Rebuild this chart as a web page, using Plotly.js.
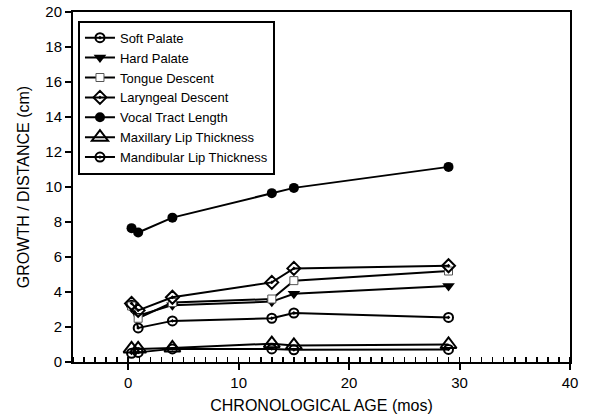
<!DOCTYPE html>
<html>
<head>
<meta charset="utf-8">
<script src="https://cdn.plot.ly/plotly-3.0.1.min.js"></script>
<style>html,body{margin:0;padding:0;background:#fff;}#chart{width:591px;height:417px;}</style>
</head>
<body>
<div id="chart"></div>
<script>
var seriesNames = ["Soft Palate","Hard Palate","Tongue Descent","Laryngeal Descent","Vocal Tract Length","Maxillary Lip Thickness","Mandibular Lip Thickness"];
var ageSoftPalate = [0.3, 0.9, 4, 13, 15, 29];
var softPalate = [3.25, 1.95, 2.35, 2.5, 2.8, 2.55];
var ageHardPalate = [0.3, 0.9, 4, 13, 15, 29];
var hardPalate = [3.1, 2.65, 3.25, 3.45, 3.9, 4.35];
var ageTongue = [0.3, 0.9, 4, 13, 15, 29];
var tongueDescent = [3.2, 2.5, 3.4, 3.6, 4.65, 5.2];
var ageLarynx = [0.3, 0.9, 4, 13, 15, 29];
var laryngealDescent = [3.35, 2.95, 3.7, 4.55, 5.35, 5.5];
var ageVocal = [0.3, 0.9, 4, 13, 15, 29];
var vocalTract = [7.65, 7.4, 8.25, 9.65, 9.95, 11.15];
var ageMaxLip = [0.3, 0.9, 4, 13, 15, 29];
var maxLip = [0.75, 0.75, 0.8, 1.05, 0.95, 1.0];
var ageMandLip = [0.3, 0.9, 4, 13, 15, 29];
var mandLip = [0.5, 0.55, 0.75, 0.75, 0.7, 0.72];
var xTickVals = [0, 10, 20, 30, 40];
var yTickVals = [0, 2, 4, 6, 8, 10, 12, 14, 16, 18, 20];

var lineStyle = {color: '#000', width: 2};
var traces = [
  {x: ageSoftPalate, y: softPalate, name: seriesNames[0], mode: 'lines+markers', line: lineStyle,
   marker: {symbol: 'circle-open-dot', size: 9, color: '#000', line: {width: 2, color: '#000'}}},
  {x: ageHardPalate, y: hardPalate, name: seriesNames[1], mode: 'lines+markers', line: lineStyle,
   marker: {symbol: 'triangle-down', size: 11, color: '#000'}},
  {x: ageTongue, y: tongueDescent, name: seriesNames[2], mode: 'lines+markers', line: lineStyle,
   marker: {symbol: 'square', size: 8, color: '#fff', line: {width: 1, color: '#555'}}},
  {x: ageLarynx, y: laryngealDescent, name: seriesNames[3], mode: 'lines+markers', line: lineStyle,
   marker: {symbol: 'diamond-open-dot', size: 10, color: '#000', line: {width: 2, color: '#000'}}},
  {x: ageVocal, y: vocalTract, name: seriesNames[4], mode: 'lines+markers', line: lineStyle,
   marker: {symbol: 'circle', size: 10, color: '#000'}},
  {x: ageMaxLip, y: maxLip, name: seriesNames[5], mode: 'lines+markers', line: lineStyle,
   marker: {symbol: 'triangle-up-open', size: 14, color: '#000', line: {width: 2, color: '#000'}}},
  {x: ageMandLip, y: mandLip, name: seriesNames[6], mode: 'lines+markers', line: lineStyle,
   marker: {symbol: 'circle-open-dot', size: 9, color: '#000', line: {width: 2, color: '#000'}}}
];

var layout = {
  width: 591, height: 417,
  margin: {l: 73, r: 21, t: 12, b: 55},
  paper_bgcolor: '#fff', plot_bgcolor: '#fff',
  font: {family: 'Liberation Sans, Arial, sans-serif', color: '#000', size: 15},
  showlegend: true,
  legend: {x: 0.01, y: 0.975, xanchor: 'left', yanchor: 'top',
    bordercolor: '#000', borderwidth: 2, bgcolor: '#fff',
    font: {size: 13, family: 'Liberation Sans, Arial, sans-serif'},
    tracegroupgap: 0, itemwidth: 30},
  xaxis: {
    range: [-5, 40], tickvals: xTickVals, ticktext: xTickVals.map(String),
    showgrid: false, zeroline: false, showline: true, linecolor: '#000', linewidth: 2, mirror: true,
    ticks: 'outside', ticklen: 6, tickwidth: 2, tickcolor: '#000',
    minor: {dtick: 1, tick0: 0, ticks: 'inside', ticklen: 5, tickwidth: 1.5, tickcolor: '#000', showgrid: false},
    title: {text: 'CHRONOLOGICAL AGE (mos)', font: {size: 16}, standoff: 10},
    tickfont: {size: 15}
  },
  yaxis: {
    range: [0, 20], tickvals: yTickVals, ticktext: yTickVals.map(String),
    showgrid: false, zeroline: false, showline: true, linecolor: '#000', linewidth: 2, mirror: true,
    ticks: 'outside', ticklen: 6, tickwidth: 2, tickcolor: '#000',
    title: {text: 'GROWTH / DISTANCE (cm)', font: {size: 16}, standoff: 12},
    tickfont: {size: 15}
  }
};

Plotly.newPlot('chart', traces, layout, {displayModeBar: false, staticPlot: true});
</script>
</body>
</html>
